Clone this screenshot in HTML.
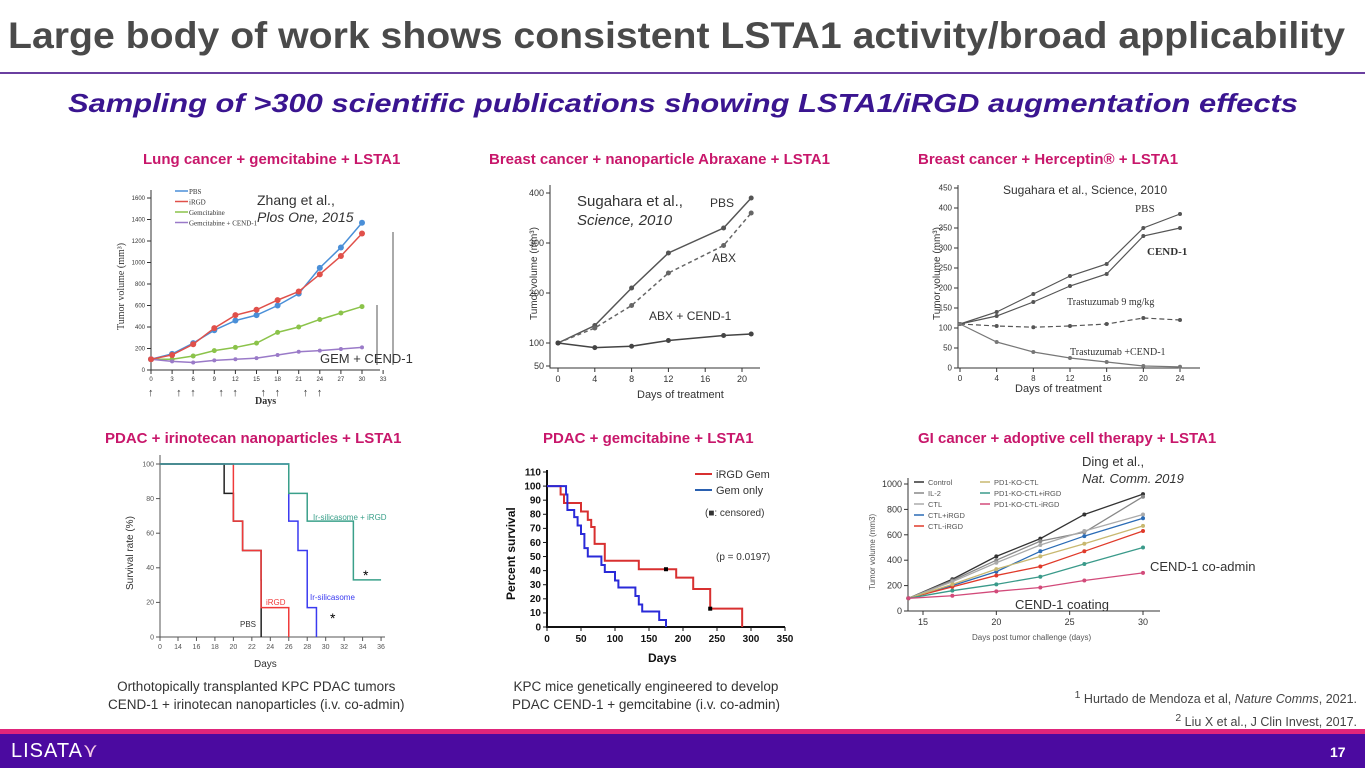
<!DOCTYPE html>
<html><head><meta charset="utf-8">
<style>
body{margin:0;width:1365px;height:768px;overflow:hidden;background:#fff;font-family:"Liberation Sans",sans-serif;position:relative}
.t{position:absolute;white-space:nowrap}
.ph{position:absolute;font-weight:bold;color:#c8176b;font-size:15px}
.fit{transform-origin:0 0}
</style></head><body>
<div class="t fit" id="ttl" data-w="1337" style="left:8px;top:15px;font-size:37px;font-weight:bold;color:#4a4a4a">Large body of work shows consistent LSTA1 activity/broad applicability</div>
<div style="position:absolute;left:0;top:72px;width:1365px;height:2px;background:#6a3fa0"></div>
<div class="t fit" id="sub" data-w="1230" style="left:68px;top:88px;font-size:26px;font-weight:bold;font-style:italic;color:#3a1590">Sampling of &gt;300 scientific publications showing LSTA1/iRGD augmentation effects</div>
<div class="ph t" style="left:143px;top:151px">Lung cancer + gemcitabine + LSTA1</div>
<div class="ph t" style="left:489px;top:151px">Breast cancer + nanoparticle Abraxane + LSTA1</div>
<div class="ph t" style="left:918px;top:151px">Breast cancer + Herceptin® + LSTA1</div>
<div class="ph t" style="left:105px;top:430px">PDAC + irinotecan nanoparticles + LSTA1</div>
<div class="ph t" style="left:543px;top:430px">PDAC + gemcitabine + LSTA1</div>
<div class="ph t" style="left:918px;top:430px">GI cancer + adoptive cell therapy + LSTA1</div>
<div class="t" style="left:108px;top:678px;font-size:13.5px;color:#333;text-align:center;line-height:18px">Orthotopically transplanted KPC PDAC tumors<br>CEND-1 + irinotecan nanoparticles (i.v. co-admin)</div>
<div class="t" style="left:512px;top:678px;font-size:13.5px;color:#333;text-align:center;line-height:18px">KPC mice genetically engineered to develop<br>PDAC CEND-1 + gemcitabine (i.v. co-admin)</div>
<div class="t" style="right:8px;top:686px;font-size:12.5px;color:#444;text-align:right;line-height:20px"><sup>1</sup> Hurtado de Mendoza et al, <i>Nature Comms</i>, 2021.<br><sup>2</sup> Liu X et al., J Clin Invest, 2017.</div>
<div style="position:absolute;left:0;top:729px;width:1365px;height:5px;background:#e0257a"></div>
<div style="position:absolute;left:0;top:734px;width:1365px;height:34px;background:#4b0aa0"></div>
<div class="t" style="left:11px;top:738px;font-size:20px;color:#fff;letter-spacing:1px">LISATA<span style="color:#f5c9e6">⋎</span></div>
<div class="t" style="left:1330px;top:744px;font-size:14px;color:#fff;font-weight:bold">17</div>
<svg id="s" width="1365" height="768" style="position:absolute;left:0;top:0" font-family="Liberation Sans, sans-serif"></svg>
<script>
// Panel 1 lung
const p1Days=[0,3,6,9,12,15,18,21,24,27,30];
const p1PBS=[100,150,250,370,460,510,600,710,950,1140,1370];
const p1IRGD=[100,140,240,390,510,560,650,730,890,1060,1270];
const p1Gem=[100,100,130,180,210,250,350,400,470,530,590];
const p1GemCend=[100,80,70,90,100,110,140,170,180,195,210];
const p1YTicks=[0,200,400,600,800,1000,1200,1400,1600];
const p1XTicks=[0,3,6,9,12,15,18,21,24,27,30,33];
// Panel 2 abraxane
const p2Days=[0,4,8,12,18,21];
const p2PBS=[100,135,210,280,330,390];
const p2ABX=[100,130,175,240,295,360];
const p2Cend=[100,90,93,105,115,118];
const p2YTicks=[50,100,200,300,400];
const p2XTicks=[0,4,8,12,16,20];
// Panel 3 herceptin
const p3Days=[0,4,8,12,16,20,24];
const p3PBS=[110,140,185,230,260,350,385];
const p3Cend=[110,130,165,205,235,330,350];
const p3Tras=[110,105,102,105,110,125,120];
const p3TrasCend=[110,65,40,25,15,5,3];
const p3YTicks=[0,50,100,150,200,250,300,350,400,450];
const p3XTicks=[0,4,8,12,16,20,24];
// Panel 4 survival irinotecan (step times & values)
const p4PBST=[0,19,20,21,22,23,23.01], p4PBSV=[100,83,67,50,50,33,0];
const p4IRGDT=[0,20,21,23,26], p4IRGDV=[100,67,50,17,0];
const p4IrT=[0,26,27,28,29], p4IrV=[100,67,50,17,0];
const p4IrIT=[0,26,28,33,36], p4IrIV=[100,83,67,33,33];
const p4YTicks=[0,20,40,60,80,100];
const p4XTicks=[0,14,16,18,20,22,24,26,28,30,32,34,36];
// Panel 5 gem survival
const p5RedT=[0,20,25,50,60,65,70,85,135,190,215,240,287], p5RedV=[100,94,88,82,76,71,59,47,41,35,27,13,0];
const p5BlueT=[0,28,30,40,45,50,55,60,80,85,100,105,130,135,140,165,175], p5BlueV=[100,94,83,78,72,66,56,50,44,39,33,28,22,16,11,5,0];
const p5YTicks=[0,10,20,30,40,50,60,70,80,90,100,110];
const p5XTicks=[0,50,100,150,200,250,300,350];
// Panel 6 GI
const p6Days=[14,17,20,23,26,30];
const p6Names=["Control","IL-2","CTL","CTL+iRGD","CTL-iRGD","PD1-KO-CTL","PD1-KO-CTL+iRGD","PD1-KO-CTL-iRGD"];
const p6Vals=[[100,250,430,570,760,920],[100,240,400,550,620,900],[100,230,380,520,630,760],[100,200,310,470,590,730],[100,190,280,350,470,630],[100,210,330,430,530,670],[100,160,210,270,370,500],[100,120,155,185,240,300]];
const p6Cols=["#333","#888","#aaa","#2a6bb5","#e03a2a","#c8b870","#3a9a8a","#d24a7a"];
const p6YTicks=[0,200,400,600,800,1000];
const p6XTicks=[15,20,25,30];

document.querySelectorAll('.fit').forEach(e=>{const w=e.getBoundingClientRect().width;e.style.transform='scaleX('+(+e.dataset.w/w)+')';});
const S=document.getElementById('s');const NS='http://www.w3.org/2000/svg';
function el(t,a,txt){const e=document.createElementNS(NS,t);for(const k in a)e.setAttribute(k,a[k]);if(txt!==undefined)e.textContent=txt;S.appendChild(e);return e;}
function lin(d0,d1,r0,r1){return v=>r0+(v-d0)*(r1-r0)/(d1-d0);}
function line(xs,ys,X,Y,col,w,dash,name,mk){const pts=xs.map((d,i)=>X(d)+','+Y(ys[i])).join(' ');
 const p=el('polyline',{points:pts,fill:'none',stroke:col,'stroke-width':w,'stroke-dasharray':dash||''});
 
 if(mk)xs.forEach((d,i)=>{const c=el('circle',{cx:X(d),cy:Y(ys[i]),r:mk,fill:col});});}
function step(ts,vs,end,X,Y,col,w,name){let d='M'+X(ts[0])+','+Y(vs[0]);for(let i=1;i<ts.length;i++){d+='H'+X(ts[i])+'V'+Y(vs[i]);}d+='H'+X(end);
 const p=el('path',{d:d,fill:'none',stroke:col,'stroke-width':w});}
function axes(X,Y,xt,yt,x0,y0,x1,y1,fs,col,name,bold){
 const a=el('path',{d:`M${x0},${y1}V${y0}H${x1}`,fill:'none',stroke:col,'stroke-width':bold?2:1});
 yt.forEach(v=>{el('line',{x1:x0-4,x2:x0,y1:Y(v),y2:Y(v),stroke:col});const t=el('text',{x:x0-6,y:Y(v)+fs/3,'font-size':fs,'text-anchor':'end',fill:col,'font-weight':bold?'bold':'normal'},v);});
 xt.forEach(v=>{el('line',{x1:X(v),x2:X(v),y1:y0,y2:y0+4,stroke:col});const t=el('text',{x:X(v),y:y0+fs+5,'font-size':fs,'text-anchor':'middle',fill:col,'font-weight':bold?'bold':'normal'},v);});}
function txt(x,y,s,fs,o){const a=Object.assign({x:x,y:y,'font-size':fs,fill:'#333'},o||{});const t=el('text',a,s);return t;}

// P1
{const X=lin(0,30,151,362),Y=lin(0,1600,370,198);
axes(X,Y,p1XTicks,p1YTicks,151,370,380,190,6,'#333','lung-chart');
line(p1Days,p1Gem,X,Y,'#8bc34a',1.5,'','gem-series',2.5);
line(p1Days,p1GemCend,X,Y,'#9a7ac8',1.5,'','gem-cend-series',2);
line(p1Days,p1PBS,X,Y,'#4a8fd8',1.5,'','pbs-series',3);
line(p1Days,p1IRGD,X,Y,'#e0504a',1.5,'','irgd-series',3);
txt(257,205,'Zhang et al.,',14);txt(257,222,'Plos One, 2015',14,{'font-style':'italic'});
txt(320,363,'GEM + CEND-1',13);txt(255,404,'Days',10,{'font-weight':'bold','font-family':'Liberation Serif'});
txt(124,330,'Tumor volume (mm³)',10,{transform:'rotate(-90 124 330)','font-family':'Liberation Serif'});
[['PBS','#4a8fd8'],['iRGD','#e0504a'],['Gemcitabine','#8bc34a'],['Gemcitabine + CEND-1','#9a7ac8']].forEach((l,i)=>{el('line',{x1:175,x2:188,y1:191+i*10.5,y2:191+i*10.5,stroke:l[1],'stroke-width':1.5});txt(189,194+i*10.5,l[0],7,{'font-family':'Liberation Serif'});});
el('line',{x1:393,x2:393,y1:232,y2:365,stroke:'#555'});el('line',{x1:377,x2:377,y1:305,y2:365,stroke:'#555'});
[0,3,6,9,12,15,18,21,24].forEach((d,i)=>txt(X(d+(i%2?1:0))-3,396,'↑',11));}
// P2
{const X=lin(0,20,558,742);const Y=v=>v>=100?lin(100,400,343,193)(v):lin(50,100,366,343)(v);
axes(X,Y,p2XTicks,p2YTicks,550,368,760,185,9,'#333','abraxane-chart');
line(p2Days,p2PBS,X,Y,'#555',1.5,'','pbs-series',2.5);
line(p2Days,p2ABX,X,Y,'#666',1.5,'4,3','abx-series',2.5);
line(p2Days,p2Cend,X,Y,'#444',1.5,'','abx-cend-series',2.5);
txt(577,206,'Sugahara et al.,',15);txt(577,225,'Science, 2010',15,{'font-style':'italic'});
txt(710,207,'PBS',12);txt(712,262,'ABX',12);txt(649,320,'ABX + CEND-1',12);
txt(637,398,'Days of treatment',11);txt(537,320,'Tumor volume (mm³)',10,{transform:'rotate(-90 537 320)'});}
// P3
{const X=lin(0,24,960,1180),Y=lin(0,450,368,188);
axes(X,Y,p3XTicks,p3YTicks,958,368,1200,185,8,'#333','herceptin-chart');
line(p3Days,p3PBS,X,Y,'#555',1.2,'','pbs-series',2);line(p3Days,p3Cend,X,Y,'#555',1.2,'','cend-series',2);
line(p3Days,p3Tras,X,Y,'#555',1.2,'5,3','trastuzumab-series',2);line(p3Days,p3TrasCend,X,Y,'#777',1.2,'','tras-cend-series',2);
txt(1003,194,'Sugahara et al., Science, 2010',12);txt(1135,212,'PBS',11,{'font-family':'Liberation Serif'});
txt(1147,255,'CEND-1',11,{'font-family':'Liberation Serif','font-weight':'bold'});txt(1067,305,'Trastuzumab 9 mg/kg',10,{'font-family':'Liberation Serif'});
txt(1070,355,'Trastuzumab +CEND-1',10,{'font-family':'Liberation Serif'});txt(1015,392,'Days of treatment',11);
txt(940,320,'Tumor volume (mm³)',10,{transform:'rotate(-90 940 320)'});}
// P4
{const X=d=>d<=0?160:178+(d-14)*9.23,Y=lin(0,100,637,464);
axes(X,Y,p4XTicks,p4YTicks,160,637,385,455,7,'#555','irinotecan-chart');
step(p4PBST,p4PBSV,23.01,X,Y,'#222',1.5,'pbs-survival');step(p4IRGDT,p4IRGDV,26,X,Y,'#f03a3a',1.5,'irgd-survival');
step(p4IrT,p4IrV,29,X,Y,'#3a3af0',1.5,'ir-silicasome-survival');step(p4IrIT,p4IrIV,36,X,Y,'#3aa08a',1.5,'ir-silicasome-irgd-survival');
txt(313,520,'Ir-silicasome + iRGD',8,{fill:'#3aa08a'});txt(310,600,'Ir-silicasome',8,{fill:'#3a3af0'});
txt(266,605,'iRGD',8,{fill:'#f03a3a'});txt(240,627,'PBS',8);txt(363,580,'*',14,{fill:'#000'});txt(330,623,'*',14,{fill:'#000'});
txt(254,667,'Days',10);txt(133,590,'Survival rate (%)',10,{transform:'rotate(-90 133 590)'});}
// P5
{const X=lin(0,350,547,785),Y=lin(0,110,627,472);
axes(X,Y,p5XTicks,p5YTicks,547,627,785,470,10,'#111','gem-survival-chart',true);
step(p5RedT,p5RedV,287,X,Y,'#d83030',2,'irgd-gem-survival');step(p5BlueT,p5BlueV,175,X,Y,'#2a2ad8',2,'gem-only-survival');
el('rect',{x:X(175)-2,y:Y(41)-2,width:4,height:4,fill:'#000'});el('rect',{x:X(240)-2,y:Y(13)-2,width:4,height:4,fill:'#000'});
el('line',{x1:695,x2:712,y1:474,y2:474,stroke:'#d83030','stroke-width':2});txt(716,478,'iRGD  Gem',11);
el('line',{x1:695,x2:712,y1:490,y2:490,stroke:'#2a60b0','stroke-width':2});txt(716,494,'Gem only',11);
txt(705,516,'(■: censored)',10);txt(716,560,'(p = 0.0197)',10);
txt(648,662,'Days',12,{'font-weight':'bold','fill':'#111'});txt(515,600,'Percent survival',12,{transform:'rotate(-90 515 600)','font-weight':'bold','fill':'#111'});}
// P6
{const X=lin(15,30,923,1143),Y=lin(0,1000,611,484);
axes(X,Y,p6XTicks,p6YTicks,908,611,1160,478,9,'#333','gi-chart');
p6Vals.forEach((v,i)=>line(p6Days,v,X,Y,p6Cols[i],1.3,'','gi-series-'+p6Names[i].toLowerCase(),2));
p6Names.forEach((n,i)=>{const c=i<5?0:1,r=i<5?i:i-5;const lx=c?980:914,ly=482+r*11;el('line',{x1:lx,x2:lx+10,y1:ly,y2:ly,stroke:p6Cols[i],'stroke-width':1.5});txt(lx+14,ly+3,n,7.5,{fill:'#555'});});
txt(1082,466,'Ding et al.,',13);txt(1082,483,'Nat. Comm. 2019',13,{'font-style':'italic'});
txt(1150,571,'CEND-1 co-admin',13);txt(1015,609,'CEND-1 coating',13);
txt(972,640,'Days post tumor challenge (days)',8,{fill:'#555'});txt(875,590,'Tumor volume (mm3)',8,{transform:'rotate(-90 875 590)',fill:'#555'});}
</script>
</body></html>
